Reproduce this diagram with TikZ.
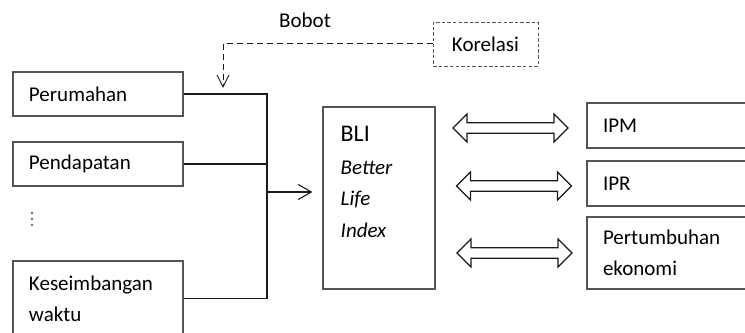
\documentclass[tikz,border=0pt]{standalone}
\usepackage{fontspec}
\setmainfont{Carlito}
\usetikzlibrary{arrows.meta, positioning, calc}
\definecolor{frame}  {HTML}{555555}
\definecolor{ink}    {HTML}{1A1A1A}
\definecolor{dotblue}{HTML}{5A6A9A}

\tikzset{
  txt/.style={font=\fontsize{14.94}{22.3}\selectfont},
  box/.style={txt, draw=frame, line width=0.8pt, inner xsep=0.4cm, inner ysep=0pt,
    align=left, text width=3.45cm},
  wire/.style={ink, line width=0.8pt},
  dashline/.style={ink, line width=0.7pt, dash pattern=on 4.3pt off 2.8pt},
  dblarrow/.pic={
    \draw[ink, line width=0.8pt] (-1.4375,0) -- (-1.0875,0.35) -- (-1.0875,0.13)
      -- (1.0875,0.13) -- (1.0875,0.35) -- (1.4375,0) -- (1.0875,-0.35)
      -- (1.0875,-0.13) -- (-1.0875,-0.13) -- (-1.0875,-0.35) -- cycle;
  }
}

\begin{document}
\begin{tikzpicture}
    \useasboundingbox (0, 0) rectangle (18.625, 8.325);
    \fill[white] (0, 0) rectangle (18.625, 8.325);

    \node[box, minimum height=1.1cm]   (perumahan)    at (2.45, 5.975) {Perumahan};
    \node[box, minimum height=1.1cm]   (pendapatan)   at (2.45, 4.225) {Pendapatan};
    \node[box, minimum height=1.875cm] (keseimbangan) at (2.45, 0.8625) {Keseimbangan\\waktu};
    \foreach \y in {3.0, 2.85, 2.7}
      \fill[dotblue] (0.8, \y) circle (0.035);

    \node[draw=frame, line width=0.8pt, minimum width=2.8cm, minimum height=4.55cm] (blibox) at (9.475, 3.375) {};
    \node[txt, anchor=north west, align=left, inner sep=0pt] (blitext)
      at ($(blibox.north west)+(0.45,-0.475)$)
      {{\fontsize{17}{20}\selectfont BLI}\\[0.05cm] \textit{Better}\\ \textit{Life}\\ \textit{Index}};

    \node[box, text width=3.4cm, minimum height=1.125cm] (ipm)    at (16.775, 5.1875) {IPM};
    \node[box, text width=3.4cm, minimum height=1.125cm] (ipr)    at (16.775, 3.7375) {IPR};
    \node[box, text width=3.4cm, minimum height=1.8cm]   (tumbuh) at (16.775, 2.0)    {Pertumbuhan\\ekonomi};

    \pic (arrowipm)    at (12.7625, 5.125) {dblarrow};
    \pic (arrowipr)    at (12.85,   3.675) {dblarrow};
    \pic (arrowtumbuh) at (12.8625, 2.0)   {dblarrow};

    \node[txt, draw=frame, line width=0.6pt, dash pattern=on 2.5pt off 1.5pt,
      minimum width=2.625cm, minimum height=1.1cm] (korelasi) at (12.1375, 7.225) {Korelasi};
    \node[txt] (bobot) at (7.625, 7.825) {Bobot};

    \coordinate (join)  at (6.675, 3.525);
    \coordinate (jtop)  at (perumahan.east -| join);
    \coordinate (jbot)  at (keseimbangan.east -| join);
    \coordinate (bend)  at (5.575,0 |- korelasi.west);
    \coordinate (weight) at (5.575, 6.125);

    \draw[wire] (perumahan.east) -- (jtop) -- (jbot) -- (keseimbangan.east);
    \draw[wire] (pendapatan.east) -- (pendapatan.east -| join);
    \draw[wire, -{Straight Barb[length=0.325cm, width=0.375cm]}, shorten >=0.25cm]
      (join) -- (join -| blibox.west);
    \draw[dashline, -{Straight Barb[length=0.3cm, width=0.3cm]}]
      (korelasi.west) -- (bend) -- (weight);
  \end{tikzpicture}
\end{document}
